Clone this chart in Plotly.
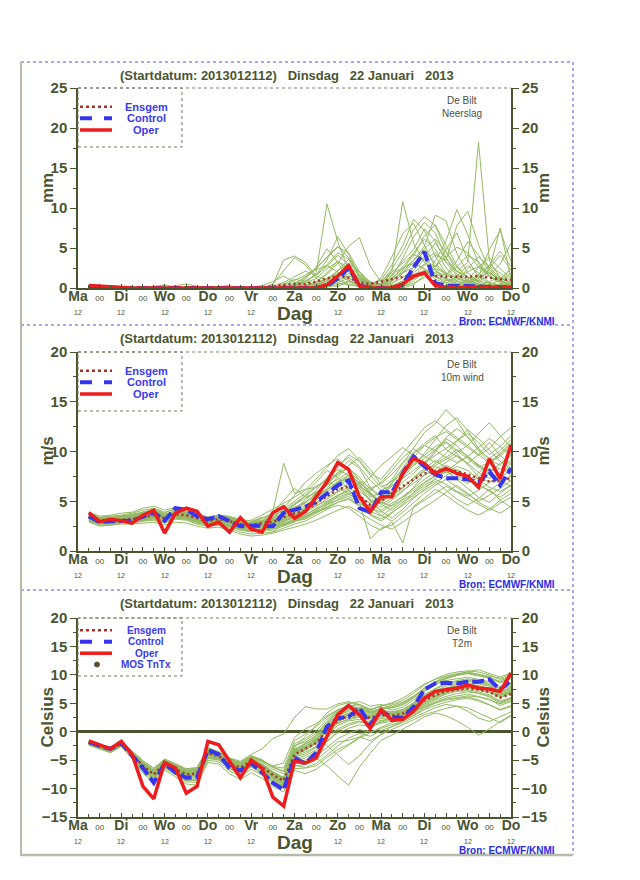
import plotly.graph_objects as go

W, H = 640, 880
OFF = 8  # page body margin compensation
FONT = "Liberation Sans"
TXT = "#4a5530"
GREEN = "#94ba62"
BLUE = "#3535f0"
RED = "#ee1c1c"
ENSC = "#a8302a"
LEGTXT = "#3a3af0"
FRAME_BLUE = "#4a5ae0"
FRAME_GREY = "#b4bcaa"

# ---------------- data ----------------
hours = [6, 12, 18, 24, 30, 36, 42, 48, 54, 60, 66, 72, 78, 84, 90, 96, 102, 108, 114, 120,
         126, 132, 138, 144, 150, 156, 162, 168, 174, 180, 186, 192, 198, 204, 210, 216, 222, 228, 234, 240]
day_hours = [0, 24, 48, 72, 96, 120, 144, 168, 192, 216, 240]
day_names = ["Ma", "Di", "Wo", "Do", "Vr", "Za", "Zo", "Ma", "Di", "Wo", "Do"]
mid_hours = [12, 36, 60, 84, 108, 132, 156, 180, 204, 228]
noon_label_hours = [0, 24, 48, 72, 96, 144, 168, 192, 216, 240]

# Precipitation (mm)
precip_oper = [0.3, 0.2, 0.1, 0, 0, 0, 0, 0, 0, 0, 0, 0, 0, 0, 0, 0, 0, 0, 0, 0,
               0, 0, 0.4, 1.5, 2.8, 0.3, 0, 0, 0, 0.5, 1.5, 1.9, 0.3, 0.1, 0.1, 0.1, 0.1, 0.1, 0.1, 0.1]
precip_ctl = [0.2, 0.1, 0, 0, 0, 0, 0, 0, 0, 0, 0, 0, 0, 0, 0, 0, 0, 0, 0, 0,
              0, 0, 0.3, 1.2, 2.5, 0.3, 0, 0, 0, 0.4, 2.6, 4.5, 0.6, 0.3, 0.3, 0.3, 0.2, 0.1, 0.1, 0.1]
precip_ens = [0.2, 0.1, 0, 0, 0, 0, 0, 0, 0, 0, 0, 0, 0, 0, 0, 0, 0.1, 0.2, 0.4, 0.5,
              0.5, 0.8, 1.2, 1.5, 1.3, 0.7, 0.5, 0.8, 1.1, 1.4, 1.6, 1.7, 1.5, 1.4, 1.4, 1.4, 1.5, 1.3, 1.1, 1.0]
precip_p01 = [0.3, 0.2, 0, 0, 0, 0, 0, 0, 0, 0, 0, 0, 0, 0, 0, 0, 0, 0.5, 2.1, 3.8,
              2.9, 1.2, 0.4, 0.2, 0.8, 0.3, 0, 0, 0.5, 1.8, 3.2, 2.4, 1.1, 0.6, 1.5, 2.8, 1.9, 0.7, 0.3, 0.5]
precip_p02 = [0.2, 0.1, 0, 0, 0, 0, 0.2, 0.4, 0.1, 0, 0, 0, 0, 0, 0, 0, 0, 0, 0, 0.3,
              1.1, 2.6, 4.9, 3.2, 1.0, 0.2, 0, 0.4, 2.1, 10.8, 5.6, 3.2, 2.4, 1.1, 0.6, 0.4, 1.2, 2.0, 0.8, 0.4]
precip_p03 = [0.3, 0.1, 0, 0, 0, 0, 0, 0, 0, 0, 0, 0, 0, 0, 0, 0.1, 0.3, 0.8, 1.5, 0.7,
              0.5, 1.9, 10.5, 5.8, 2.2, 0.6, 0.1, 0, 0.3, 0.9, 2.6, 4.8, 3.1, 1.7, 2.6, 4.1, 3.3, 1.5, 0.8, 0.4]
precip_p04 = [0.2, 0.2, 0, 0, 0, 0, 0, 0, 0, 0, 0, 0, 0.2, 0.3, 0, 0, 0, 0, 0.1, 0.4,
              0.9, 1.6, 2.9, 4.4, 3.6, 1.3, 0.4, 0.2, 1.1, 2.7, 4.0, 6.5, 7.9, 5.4, 2.8, 1.2, 0.9, 2.5, 4.1, 2.2]
precip_p05 = [0.3, 0.2, 0.1, 0, 0, 0, 0, 0, 0, 0, 0, 0, 0, 0, 0, 0, 0, 0, 0, 0,
              0.2, 0.8, 1.7, 3.1, 5.2, 6.3, 2.7, 0.8, 0.2, 0, 0.4, 1.6, 3.4, 5.9, 9.8, 6.7, 3.0, 1.4, 0.6, 0.3]
precip_p06 = [0.2, 0.1, 0, 0, 0, 0, 0, 0, 0, 0, 0, 0, 0, 0, 0, 0, 0, 0, 0, 0,
              0, 0, 0.5, 1.4, 2.3, 1.1, 0.3, 0.6, 2.4, 4.5, 7.3, 8.9, 7.8, 4.6, 2.0, 3.2, 18.2, 3.4, 1.3, 0.6]
precip_p07 = [0.3, 0.2, 0, 0, 0, 0, 0, 0, 0.3, 0.5, 0.2, 0, 0, 0, 0, 0, 0, 0.4, 3.5, 4.0,
              3.2, 1.5, 1.0, 2.1, 3.6, 1.9, 0.5, 0.1, 0, 0.2, 0.9, 2.1, 1.4, 0.7, 0.4, 1.0, 2.6, 3.8, 2.4, 1.2]
precip_p08 = [0.2, 0.2, 0, 0, 0, 0, 0, 0, 0, 0, 0, 0, 0, 0, 0, 0, 0, 0, 0, 0.1,
              0.3, 0.6, 1.2, 1.8, 0.9, 0.4, 0.2, 1.3, 3.9, 6.8, 8.1, 5.3, 2.6, 4.8, 6.9, 3.5, 1.4, 0.6, 0.3, 0.2]
precip_p09 = [0.3, 0.1, 0, 0, 0, 0, 0, 0, 0, 0, 0, 0, 0, 0, 0, 0, 0, 0, 0, 0,
              0, 0.4, 1.1, 2.2, 3.0, 2.1, 0.6, 0.2, 0.9, 2.0, 3.5, 5.2, 9.1, 8.4, 4.3, 1.9, 0.8, 1.6, 3.0, 5.6]
precip_p10 = [0.2, 0.2, 0, 0, 0, 0, 0, 0, 0, 0, 0, 0, 0, 0, 0, 0, 0, 0, 0.2, 0.6,
              1.3, 2.5, 3.8, 5.1, 4.4, 2.0, 0.7, 0.3, 0.1, 0.5, 1.9, 3.0, 2.2, 1.0, 0.5, 0.3, 0.9, 2.3, 7.5, 1.1]
precip_p11 = [0.3, 0.2, 0, 0, 0, 0, 0, 0, 0, 0, 0, 0, 0, 0, 0, 0, 0, 0, 0, 0,
              0.2, 0.5, 0.8, 1.4, 2.6, 1.7, 0.8, 0.4, 1.6, 3.4, 4.8, 7.4, 5.9, 3.2, 1.5, 0.7, 0.4, 0.2, 0.5, 0.3]
precip_p12 = [0.2, 0.1, 0, 0, 0, 0, 0, 0, 0, 0, 0, 0, 0, 0, 0, 0, 0, 0, 0, 0.2,
              0.4, 0.7, 1.9, 3.4, 2.0, 0.6, 0.1, 0, 0, 0.3, 1.4, 2.9, 4.1, 3.5, 7.8, 9.6, 5.4, 2.3, 1.0, 0.4]
precip_p13 = [0.3, 0.2, 0, 0, 0, 0, 0, 0, 0, 0, 0, 0, 0, 0, 0, 0, 0, 0.1, 0.5, 1.1,
              0.8, 0.4, 0.6, 1.0, 0.5, 0.2, 0.1, 0.6, 1.8, 2.5, 3.1, 2.4, 1.5, 0.9, 1.3, 2.0, 2.7, 1.8, 1.1, 2.4]
precip_p14 = [0.2, 0.2, 0, 0, 0, 0, 0, 0, 0, 0, 0, 0, 0, 0, 0, 0, 0, 0, 0, 0,
              0, 0, 0.2, 0.7, 1.2, 0.8, 0.3, 0.1, 0.8, 2.2, 4.4, 6.1, 4.9, 2.5, 1.2, 0.6, 1.5, 4.8, 7.2, 3.3]
precip_p15 = [0.3, 0.1, 0, 0, 0, 0, 0, 0, 0, 0, 0, 0, 0, 0, 0, 0, 0, 0, 0, 0.3,
              0.8, 1.6, 3.5, 6.4, 4.2, 1.5, 0.4, 0, 0.2, 0.6, 1.2, 2.0, 2.8, 1.6, 0.9, 0.5, 0.3, 0.8, 1.4, 0.7]
precip_p16 = [0.2, 0.2, 0, 0, 0, 0, 0, 0, 0, 0, 0, 0, 0, 0, 0, 0, 0, 0, 0, 0,
              0, 0.1, 0.4, 0.9, 1.5, 1.1, 0.5, 1.0, 2.9, 5.3, 8.6, 7.2, 4.0, 1.8, 0.9, 2.4, 3.9, 2.6, 1.2, 0.6]
precip_p17 = [0.3, 0.2, 0, 0, 0, 0, 0.1, 0.3, 0, 0, 0, 0, 0, 0, 0, 0, 0, 0, 0, 0.5,
              1.4, 2.3, 2.8, 2.0, 1.2, 0.6, 0.2, 0.4, 1.1, 1.9, 2.6, 3.9, 5.6, 3.7, 2.1, 1.0, 0.5, 0.3, 0.2, 0.1]
precip_p18 = [0.2, 0.1, 0, 0, 0, 0, 0, 0, 0, 0, 0, 0, 0, 0, 0, 0, 0, 0, 0, 0,
              0, 0, 0.3, 0.6, 0.4, 0.2, 0, 0, 0.1, 0.5, 1.1, 1.8, 2.4, 1.9, 1.2, 0.8, 1.7, 2.9, 4.6, 2.7]
precip_p19 = [0.3, 0.2, 0, 0, 0, 0, 0, 0, 0, 0, 0, 0, 0, 0, 0, 0, 0, 0, 0.3, 0.9,
              1.6, 2.4, 3.9, 5.2, 3.8, 1.6, 0.5, 0.2, 0.6, 1.3, 2.2, 3.6, 4.4, 3.3, 2.1, 1.4, 0.9, 0.6, 0.4, 0.3]
precip_p20 = [0.2, 0.1, 0, 0, 0, 0, 0, 0, 0, 0, 0, 0, 0, 0, 0, 0, 0, 0, 0, 0,
              0, 0.2, 0.6, 1.1, 1.8, 1.2, 0.4, 0.2, 1.4, 3.7, 6.4, 8.2, 6.9, 3.8, 1.7, 0.9, 0.5, 0.3, 1.1, 2.4]
precip_p21 = [0.3, 0.2, 0, 0, 0, 0, 0, 0, 0, 0, 0, 0, 0, 0, 0, 0, 0, 0.2, 0.7, 1.4,
              2.1, 1.6, 2.7, 4.1, 2.9, 1.0, 0.3, 0, 0, 0.2, 0.6, 1.3, 2.0, 1.6, 3.4, 5.8, 4.1, 2.0, 0.9, 0.4]
precip_p22 = [0.2, 0.2, 0, 0, 0, 0, 0, 0, 0, 0, 0, 0, 0, 0, 0, 0, 0, 0, 0, 0,
              0, 0, 0.1, 0.4, 0.9, 0.5, 0.2, 0.4, 1.2, 2.4, 3.4, 4.9, 6.1, 4.5, 2.6, 1.3, 0.7, 0.4, 0.2, 0.2]
precip_p23 = [0.3, 0.1, 0, 0, 0, 0, 0, 0, 0, 0, 0, 0, 0, 0, 0, 0, 0, 0, 0, 0.2,
              0.6, 1.2, 2.4, 3.3, 2.6, 0.9, 0.3, 0.1, 0.3, 0.8, 1.6, 2.2, 1.8, 1.2, 0.8, 0.5, 1.3, 2.8, 1.9, 0.9]
precip_p24 = [0.2, 0.2, 0, 0, 0, 0, 0, 0, 0, 0, 0, 0, 0, 0, 0, 0, 0, 0, 0, 0,
              0.1, 0.3, 0.9, 1.7, 2.1, 1.4, 0.6, 0.9, 2.0, 3.1, 4.2, 3.5, 2.7, 3.9, 5.1, 4.4, 2.6, 1.5, 0.8, 1.9]
precip_members = [precip_p01, precip_p02, precip_p03, precip_p04, precip_p05, precip_p06,
                  precip_p07, precip_p08, precip_p09, precip_p10, precip_p11, precip_p12,
                  precip_p13, precip_p14, precip_p15, precip_p16, precip_p17, precip_p18,
                  precip_p19, precip_p20, precip_p21, precip_p22, precip_p23, precip_p24]

# 10m wind (m/s)
wind_oper = [3.85, 2.95, 3.2, 3.05, 2.8, 3.6, 4.1, 1.8, 3.8, 4.3, 4.0, 2.5, 2.9, 1.9, 3.35, 2.2, 1.9, 3.85, 4.45, 3.3,
             3.95, 5.45, 6.95, 8.9, 8.2, 5.45, 3.95, 5.45, 5.45, 7.8, 9.3, 8.8, 7.8, 8.3, 7.8, 7.5, 6.4, 9.25, 7.25, 10.65]
wind_ctl = [3.5, 2.9, 3.0, 3.0, 3.05, 3.45, 3.9, 3.05, 4.3, 4.15, 3.5, 3.2, 3.5, 3.0, 2.5, 2.55, 2.55, 2.5, 3.85, 4.2,
            4.45, 4.95, 5.8, 6.6, 7.1, 4.3, 3.9, 5.9, 5.9, 7.8, 9.5, 8.5, 7.7, 7.3, 7.3, 7.2, 6.9, 8.0, 6.6, 8.3]
wind_ens = [3.4, 3.0, 3.0, 3.1, 3.2, 3.4, 3.6, 3.3, 3.7, 3.6, 3.3, 3.0, 3.2, 3.0, 2.7, 2.6, 2.8, 2.9, 3.4, 3.8,
            4.0, 4.8, 5.5, 6.2, 6.5, 5.5, 4.6, 5.0, 5.8, 6.5, 7.2, 7.8, 8.0, 8.2, 8.0, 7.7, 7.3, 7.0, 7.0, 7.3]
wind_m01 = [3.6, 3.1, 3.3, 3.4, 3.5, 3.9, 4.0, 3.6, 4.1, 3.8, 3.4, 3.1, 3.5, 3.3, 2.9, 2.5, 2.9, 3.4, 4.2, 5.0,
            5.8, 6.9, 8.1, 7.4, 6.2, 4.9, 4.1, 5.3, 6.8, 8.4, 9.9, 10.8, 11.6, 10.2, 9.5, 8.8, 9.7, 10.9, 9.6, 8.7]
wind_m02 = [3.2, 2.8, 2.7, 2.9, 3.0, 3.1, 3.3, 3.0, 3.4, 3.2, 2.9, 2.6, 2.8, 2.4, 2.1, 1.9, 2.2, 2.0, 2.6, 3.1,
            3.5, 3.9, 4.6, 5.5, 6.3, 6.9, 5.8, 4.7, 4.1, 4.9, 5.6, 6.4, 7.0, 6.1, 5.2, 4.6, 5.3, 6.2, 5.1, 4.4]
wind_m03 = [3.5, 3.3, 3.2, 3.0, 3.4, 3.7, 3.9, 3.5, 3.6, 3.9, 3.7, 3.4, 3.6, 3.5, 3.1, 2.8, 3.3, 3.8, 5.1, 6.3,
            5.4, 5.9, 6.8, 7.7, 8.4, 7.1, 5.6, 4.8, 6.1, 7.4, 8.6, 9.8, 11.2, 12.6, 13.4, 12.1, 10.3, 9.2, 8.6, 9.9]
wind_m04 = [3.3, 2.9, 3.0, 3.2, 2.9, 3.0, 3.3, 3.1, 3.5, 3.3, 3.0, 2.7, 2.9, 2.6, 2.3, 2.2, 2.5, 2.4, 2.8, 3.2,
            3.6, 4.3, 4.9, 5.6, 6.0, 5.2, 4.3, 3.9, 4.6, 5.5, 6.3, 7.2, 7.9, 8.6, 8.1, 7.4, 6.6, 6.1, 6.8, 7.5]
wind_m05 = [3.8, 3.4, 3.5, 3.6, 3.8, 4.1, 4.3, 3.9, 4.2, 4.0, 3.6, 3.3, 3.4, 3.2, 2.8, 2.9, 3.4, 3.1, 3.6, 4.4,
            4.9, 5.7, 6.6, 7.8, 9.1, 8.3, 6.4, 5.2, 5.9, 6.9, 7.8, 8.9, 10.1, 11.3, 10.6, 9.4, 8.7, 7.9, 8.8, 9.6]
wind_m06 = [3.1, 2.7, 2.9, 3.0, 3.1, 3.2, 3.5, 3.2, 3.8, 3.5, 3.1, 2.9, 3.1, 2.9, 2.6, 2.4, 2.6, 2.7, 3.0, 3.3,
            3.3, 4.0, 4.4, 4.9, 5.3, 4.6, 3.6, 3.0, 3.8, 4.7, 5.9, 6.8, 7.5, 8.1, 7.2, 6.3, 5.4, 4.9, 5.8, 6.6]
wind_m07 = [3.4, 3.0, 3.1, 3.3, 3.3, 3.6, 3.8, 3.4, 3.9, 3.7, 3.3, 3.0, 3.3, 3.1, 2.7, 2.7, 3.0, 3.2, 4.3, 5.6,
            6.9, 7.8, 8.6, 9.3, 8.1, 6.7, 5.4, 5.9, 7.2, 8.8, 10.4, 11.9, 12.8, 14.2, 13.1, 11.4, 10.2, 9.3, 10.1, 11.2]
wind_m08 = [3.0, 2.6, 2.6, 2.8, 2.8, 3.0, 3.1, 2.8, 3.2, 3.1, 2.7, 2.5, 2.6, 2.3, 1.9, 1.7, 1.8, 1.9, 2.3, 2.7,
            3.0, 3.6, 4.2, 4.6, 4.3, 3.5, 2.6, 2.1, 2.9, 0.8, 4.5, 5.3, 6.2, 5.6, 4.8, 4.1, 3.6, 4.2, 5.1, 5.8]
wind_m09 = [3.6, 3.2, 3.4, 3.5, 3.6, 3.8, 4.1, 3.7, 4.0, 3.8, 3.5, 3.2, 3.4, 3.3, 3.0, 2.6, 2.8, 4.0, 8.8, 5.8,
            6.2, 6.4, 7.3, 8.2, 7.6, 6.8, 6.1, 6.9, 8.1, 9.4, 10.3, 9.5, 8.9, 9.8, 11.0, 12.2, 11.3, 10.1, 9.0, 8.3]
wind_m10 = [3.3, 3.0, 3.0, 3.1, 3.2, 3.5, 3.6, 3.3, 3.7, 3.6, 3.2, 3.0, 3.1, 3.0, 2.7, 2.5, 2.7, 2.6, 2.9, 3.6,
            4.2, 5.1, 5.9, 6.8, 7.5, 6.3, 5.0, 4.4, 5.1, 6.0, 7.1, 8.0, 8.8, 9.4, 10.2, 9.6, 8.5, 7.6, 7.1, 6.5]
wind_m11 = [3.5, 3.1, 3.2, 3.3, 3.4, 3.6, 3.8, 3.4, 3.7, 3.7, 3.4, 3.1, 3.3, 3.0, 2.6, 2.8, 3.1, 3.0, 3.3, 3.9,
            4.6, 5.3, 6.1, 7.0, 7.6, 6.9, 5.9, 4.9, 4.5, 5.2, 6.4, 7.7, 8.5, 8.0, 7.3, 6.8, 7.4, 8.3, 7.7, 7.0]
wind_m12 = [3.2, 2.8, 2.8, 3.0, 3.0, 3.2, 3.4, 3.1, 3.5, 3.4, 3.1, 2.8, 3.0, 2.7, 2.4, 2.3, 2.4, 2.5, 2.7, 3.0,
            3.2, 3.8, 4.4, 5.2, 5.7, 5.1, 4.4, 3.6, 3.0, 3.9, 4.9, 5.8, 6.6, 7.2, 6.4, 5.7, 5.0, 5.6, 6.3, 7.1]
wind_m13 = [3.7, 3.3, 3.3, 3.5, 3.7, 3.9, 4.2, 3.8, 4.3, 4.1, 3.7, 3.3, 3.5, 3.4, 3.2, 3.0, 3.3, 3.6, 4.0, 4.8,
            5.5, 6.4, 7.2, 8.3, 9.7, 9.0, 7.6, 6.4, 7.0, 8.2, 9.3, 10.6, 11.4, 12.0, 11.2, 10.4, 9.6, 10.3, 11.5, 12.4]
wind_m14 = [3.4, 3.0, 3.0, 3.2, 3.3, 3.4, 3.7, 3.3, 3.6, 3.5, 3.2, 2.9, 3.2, 2.9, 2.6, 2.4, 2.6, 2.8, 3.1, 3.4,
            3.9, 4.5, 5.2, 5.9, 6.4, 5.6, 4.7, 4.1, 4.8, 5.4, 6.1, 6.9, 7.6, 7.9, 8.5, 8.1, 7.2, 6.4, 6.0, 6.6]
wind_m15 = [3.1, 2.8, 2.9, 2.9, 3.1, 3.3, 3.5, 3.2, 3.4, 3.3, 3.0, 2.7, 2.8, 2.5, 2.2, 2.0, 2.1, 2.2, 2.5, 2.9,
            3.4, 4.1, 4.8, 5.4, 5.8, 4.9, 1.2, 2.3, 2.6, 3.5, 4.4, 5.1, 5.8, 6.5, 5.9, 5.3, 4.7, 4.1, 4.8, 5.4]
wind_m16 = [3.6, 3.2, 3.3, 3.4, 3.5, 3.7, 4.0, 3.6, 3.9, 3.8, 3.5, 3.2, 3.3, 3.2, 2.9, 2.7, 2.9, 3.1, 3.5, 4.1,
            4.8, 5.8, 6.9, 7.9, 8.3, 7.4, 6.2, 5.6, 6.5, 7.6, 8.8, 9.6, 10.5, 11.0, 10.1, 9.3, 8.4, 8.9, 9.5, 10.6]
wind_m17 = [3.3, 2.9, 3.1, 3.2, 3.2, 3.4, 3.6, 3.3, 3.8, 3.6, 3.2, 3.0, 3.2, 3.0, 2.8, 2.6, 2.8, 3.0, 3.4, 3.8,
            4.4, 4.9, 5.4, 6.0, 6.8, 6.0, 5.2, 4.7, 5.3, 6.1, 6.8, 7.6, 8.2, 8.9, 9.6, 8.8, 7.9, 7.3, 7.8, 8.4]
wind_m18 = [3.2, 2.9, 2.9, 3.0, 3.1, 3.3, 3.5, 3.2, 3.6, 3.4, 3.1, 2.8, 3.0, 2.8, 2.5, 2.3, 2.5, 2.6, 3.0, 3.5,
            4.0, 4.7, 5.6, 6.6, 7.2, 6.5, 5.1, 4.0, 3.3, 4.2, 5.3, 6.2, 7.3, 8.0, 8.8, 9.5, 8.6, 7.7, 6.9, 7.6]
wind_m19 = [3.9, 3.5, 3.6, 3.8, 3.9, 4.3, 4.5, 4.1, 4.4, 4.2, 3.8, 3.4, 3.6, 3.4, 3.0, 3.1, 3.6, 4.2, 4.8, 5.4,
            6.1, 7.2, 8.4, 9.6, 10.3, 9.1, 7.8, 7.2, 8.5, 9.8, 11.2, 12.4, 13.1, 12.2, 11.4, 10.6, 11.8, 12.9, 11.6, 10.4]
wind_m20 = [2.9, 2.5, 2.6, 2.7, 2.7, 2.8, 2.9, 2.6, 2.9, 2.8, 2.5, 2.3, 2.4, 2.1, 1.7, 1.5, 1.6, 1.8, 2.1, 2.4,
            2.7, 3.1, 3.6, 4.1, 4.5, 3.9, 3.2, 2.6, 2.2, 2.9, 3.7, 4.4, 5.1, 5.9, 6.6, 5.8, 4.9, 4.3, 3.8, 4.5]
wind_m21 = [3.5, 3.2, 3.2, 3.3, 3.6, 3.8, 3.9, 3.5, 3.8, 3.7, 3.6, 3.3, 3.5, 3.3, 2.9, 2.7, 3.0, 3.3, 3.7, 4.6,
            5.6, 6.5, 7.1, 6.4, 5.7, 6.3, 7.4, 8.6, 9.5, 10.4, 9.6, 8.7, 9.9, 11.4, 12.3, 11.5, 10.1, 8.9, 9.8, 10.9]
wind_m22 = [3.3, 2.9, 2.9, 3.1, 3.1, 3.3, 3.5, 3.2, 3.5, 3.4, 3.1, 2.8, 3.0, 2.8, 2.5, 2.3, 2.6, 2.8, 3.2, 3.7,
            4.3, 5.2, 6.3, 7.5, 8.6, 9.4, 8.2, 6.7, 5.6, 6.3, 7.4, 8.3, 9.1, 8.4, 7.6, 7.0, 7.8, 8.9, 9.7, 10.8]
wind_m23 = [3.4, 3.1, 3.1, 3.2, 3.4, 3.5, 3.8, 3.4, 3.7, 3.6, 3.2, 2.9, 3.1, 2.9, 2.6, 2.5, 2.7, 2.9, 3.2, 3.6,
            4.1, 4.6, 5.0, 5.6, 6.1, 5.4, 4.8, 5.6, 6.9, 7.8, 8.6, 9.3, 10.2, 10.9, 9.8, 8.6, 7.5, 6.9, 7.6, 8.8]
wind_m24 = [3.7, 3.3, 3.4, 3.5, 3.6, 3.9, 4.1, 3.7, 4.0, 3.9, 3.6, 3.2, 3.4, 3.3, 3.0, 2.8, 3.1, 3.3, 3.8, 4.3,
            4.9, 5.5, 6.2, 6.9, 7.3, 6.6, 5.7, 5.0, 5.6, 6.4, 7.3, 8.1, 8.6, 9.2, 9.9, 10.6, 9.7, 8.8, 8.2, 9.1]
wind_m25 = [3.2, 2.8, 2.9, 3.0, 3.0, 3.1, 3.4, 3.1, 3.4, 3.3, 3.0, 2.8, 2.9, 2.6, 2.3, 2.1, 2.3, 2.4, 2.7, 3.1,
            3.6, 4.2, 4.7, 5.1, 5.5, 4.8, 4.0, 3.5, 4.3, 5.1, 5.8, 6.6, 7.2, 6.7, 6.0, 5.5, 6.1, 6.9, 7.4, 8.1]
wind_m26 = [3.5, 3.1, 3.3, 3.4, 3.4, 3.7, 3.9, 3.5, 3.9, 3.8, 3.4, 3.1, 3.3, 3.1, 2.8, 2.6, 2.9, 3.1, 3.5, 4.2,
            5.1, 6.1, 7.4, 8.6, 9.4, 8.5, 7.1, 6.1, 6.6, 7.3, 8.1, 8.9, 9.6, 10.3, 11.1, 11.8, 10.9, 9.7, 10.5, 11.6]
wind_m27 = [3.0, 2.7, 2.7, 2.9, 2.9, 3.1, 3.2, 2.9, 3.3, 3.2, 2.8, 2.6, 2.7, 2.5, 2.2, 2.0, 2.2, 2.3, 2.6, 3.0,
            3.4, 3.9, 4.3, 4.9, 5.2, 4.5, 3.7, 3.2, 3.9, 4.6, 5.4, 6.1, 6.8, 7.6, 8.2, 7.5, 6.7, 6.0, 5.4, 6.2]
wind_m28 = [3.6, 3.3, 3.3, 3.5, 3.5, 3.8, 4.0, 3.6, 4.0, 3.8, 3.5, 3.1, 3.4, 3.2, 2.9, 2.8, 3.0, 3.2, 3.9, 4.7,
            5.3, 5.9, 6.6, 7.2, 7.9, 7.1, 6.3, 6.8, 7.7, 8.9, 9.8, 10.6, 10.1, 9.4, 8.9, 9.5, 10.4, 11.3, 10.5, 9.6]
wind_members = [wind_m01, wind_m02, wind_m03, wind_m04, wind_m05, wind_m06, wind_m07, wind_m08, wind_m09,
                wind_m10, wind_m11, wind_m12, wind_m13, wind_m14, wind_m15, wind_m16, wind_m17, wind_m18,
                wind_m19, wind_m20, wind_m21, wind_m22, wind_m23, wind_m24, wind_m25, wind_m26, wind_m27, wind_m28]

# 2m temperature (Celsius)
t2m_oper = [-1.6, -2.3, -3.0, -1.7, -4.0, -9.6, -11.8, -5.4, -6.4, -10.8, -9.6, -1.7, -2.3, -5.2, -8.1, -5.0, -6.4, -11.5, -13.1, -5.2,
            -5.5, -4.6, -0.8, 3.0, 4.6, 3.0, 0.6, 3.9, 2.0, 2.2, 3.6, 5.9, 7.1, 7.4, 7.7, 8.2, 7.7, 7.5, 7.1, 10.3]
t2m_ctl = [-1.8, -2.5, -3.0, -2.0, -4.2, -6.4, -9.0, -5.6, -7.2, -8.1, -8.0, -3.2, -4.0, -6.4, -6.8, -5.5, -7.2, -9.0, -10.2, -4.6,
           -5.6, -3.7, 0.9, 2.4, 2.6, 4.2, 1.3, 3.6, 2.6, 2.4, 4.4, 7.4, 8.5, 8.6, 8.5, 8.8, 8.8, 9.2, 7.4, 9.0]
t2m_ens = [-2.0, -2.6, -3.1, -2.1, -4.0, -6.0, -7.5, -5.6, -6.6, -7.5, -7.4, -3.8, -4.3, -5.6, -6.3, -5.2, -6.2, -7.6, -8.6, -4.0,
           -3.0, -2.0, 0.2, 2.0, 2.8, 3.0, 2.4, 2.9, 2.8, 3.2, 4.2, 5.5, 6.4, 7.1, 7.4, 7.6, 7.4, 7.0, 6.0, 6.6]
t2m_m01 = [-1.8, -2.4, -2.8, -1.9, -3.6, -5.4, -6.9, -5.1, -6.0, -7.0, -6.8, -3.2, -3.9, -5.0, -5.8, -4.6, -5.6, -7.0, -8.1, -3.0,
           -2.2, -1.0, 1.2, 2.8, 3.6, 3.9, 3.1, 3.7, 3.4, 3.9, 5.0, 6.4, 7.5, 8.3, 8.8, 9.1, 8.6, 8.2, 7.1, 7.8]
t2m_m02 = [-2.2, -2.8, -3.4, -2.3, -4.4, -6.6, -8.2, -6.1, -7.2, -8.4, -8.3, -4.5, -4.8, -6.2, -7.1, -6.0, -7.0, -8.5, -9.6, -5.2,
           -4.6, -3.5, -1.8, 0.2, 1.1, 1.7, 1.4, 2.0, 2.2, 2.6, 3.4, 4.6, 5.5, 6.2, 6.7, 7.0, 6.8, 6.1, 5.0, 5.8]
t2m_m03 = [-2.0, -2.5, -3.0, -2.0, -3.8, -5.7, -7.0, -5.4, -6.3, -7.2, -7.1, -3.5, -4.1, -5.3, -6.0, -4.8, -5.7, -7.1, -8.0, -2.6,
           -1.5, -0.3, 1.6, 3.4, 4.5, 4.8, 4.0, 4.4, 3.8, 4.3, 5.6, 7.1, 8.2, 9.3, 9.9, 10.4, 10.1, 9.6, 8.7, 9.5]
t2m_m04 = [-2.1, -2.7, -3.3, -2.2, -4.1, -6.3, -7.8, -5.8, -6.9, -7.9, -7.7, -4.1, -4.5, -5.9, -6.7, -5.5, -6.6, -8.1, -9.2, -4.3,
           -3.6, -2.6, -0.6, 1.1, 1.9, 2.2, 1.7, 2.3, 2.5, 3.0, 4.0, 5.2, 6.1, 6.9, 7.3, 7.4, 7.0, 6.5, 5.4, 6.0]
t2m_m05 = [-1.9, -2.5, -2.9, -2.0, -3.9, -5.8, -7.3, -5.5, -6.5, -7.3, -7.2, -3.6, -4.2, -5.4, -6.1, -5.0, -6.0, -7.4, -8.4, -3.4,
           -2.6, -1.4, 0.8, 2.4, 3.2, 3.4, 2.8, 3.3, 3.2, 3.6, 4.7, 6.0, 7.0, 7.7, 8.0, 8.4, 8.1, 7.6, 6.6, 7.2]
t2m_m06 = [-2.3, -3.0, -3.6, -2.5, -4.6, -7.0, -8.6, -6.4, -7.6, -8.8, -8.9, -5.0, -5.3, -6.9, -7.8, -6.6, -7.6, -9.0, -10.0, -6.0,
           -5.8, -5.0, -3.4, -1.8, -1.5, -0.9, -1.6, -0.5, 0.4, 1.2, 2.1, 3.0, 3.6, 4.1, 4.5, 4.2, 3.3, 2.4, 1.6, 2.8]
t2m_m07 = [-1.7, -2.3, -2.7, -1.8, -3.4, -5.1, -6.4, -4.8, -5.6, -6.5, -6.3, -2.8, -3.5, -4.6, -5.2, -4.0, -3.0, -1.2, -0.4, 2.5,
           4.4, 4.0, 4.0, 4.9, 5.3, 4.8, 3.6, 4.1, 4.6, 5.2, 6.3, 7.6, 8.6, 9.4, 10.0, 10.6, 10.9, 10.3, 9.6, 10.4]
t2m_m08 = [-2.0, -2.6, -3.1, -2.1, -4.0, -6.1, -7.6, -5.6, -6.7, -7.6, -7.5, -3.9, -4.3, -5.7, -6.4, -5.3, -6.3, -7.8, -8.8, -3.8,
           -3.1, -2.0, 0.2, 1.8, 2.6, 2.9, 2.3, 2.8, 2.7, 3.1, 4.2, 5.5, 6.4, 7.2, 7.6, 7.8, 7.5, 7.1, 6.1, 6.7]
t2m_m09 = [-2.2, -2.9, -3.5, -2.4, -4.5, -6.8, -8.4, -6.2, -7.4, -8.6, -8.6, -4.7, -5.0, -6.5, -7.4, -6.2, -7.3, -8.8, -9.8, -5.6,
           -5.3, -4.6, -6.0, -7.8, -9.4, -6.2, -3.8, -1.5, -0.6, 0.4, 1.5, 2.6, 3.3, 2.8, 1.9, 0.8, -0.6, 0.5, 1.8, 2.9]
t2m_m10 = [-1.9, -2.4, -2.9, -1.9, -3.7, -5.6, -7.1, -5.2, -6.1, -7.1, -6.9, -3.3, -4.0, -5.2, -5.9, -4.7, -5.8, -7.2, -8.2, -3.2,
           -2.0, -0.6, 1.8, 3.7, 4.9, 5.3, 4.5, 4.8, 4.2, 4.7, 5.9, 7.3, 8.4, 9.0, 9.3, 9.6, 9.2, 8.8, 7.9, 8.6]
t2m_m11 = [-2.1, -2.6, -3.2, -2.1, -4.2, -6.2, -7.7, -5.7, -6.8, -7.7, -7.6, -4.0, -4.4, -5.8, -6.5, -5.4, -6.4, -7.9, -9.0, -4.1,
           -3.3, -1.8, 0.4, 1.6, 2.1, 2.6, 2.0, 2.5, 2.9, 3.5, 4.5, 5.8, 6.6, 7.4, 7.9, 8.1, 7.9, 7.4, 6.4, 7.0]
t2m_m12 = [-1.8, -2.5, -3.0, -2.0, -3.8, -5.7, -7.2, -5.3, -6.2, -7.1, -7.0, -3.4, -4.0, -5.1, -5.7, -4.5, -5.2, -6.0, -5.5, -1.0,
           0.5, 1.4, 2.8, 3.9, 4.6, 4.2, 3.5, 3.0, 2.6, 2.9, 3.8, 4.9, 5.8, 6.6, 7.1, 7.2, 6.7, 6.3, 5.2, 5.9]
t2m_m13 = [-2.4, -3.1, -3.7, -2.6, -4.8, -7.3, -9.0, -6.7, -8.0, -9.2, -9.4, -5.4, -5.7, -7.4, -8.4, -7.2, -8.2, -9.6, -10.6, -6.5,
           -6.4, -6.0, -4.5, -3.1, -2.2, -1.0, 0.6, 1.9, 2.4, 2.9, 3.6, 4.3, 5.1, 5.6, 5.9, 6.1, 5.6, 4.8, 3.9, 4.6]
t2m_m14 = [-2.0, -2.6, -3.0, -2.1, -3.9, -6.0, -7.4, -5.6, -6.6, -7.5, -7.3, -3.7, -4.2, -5.5, -6.2, -5.1, -6.1, -7.5, -8.5, -3.6,
           -2.9, -1.8, 0.0, 1.4, 2.3, 2.7, 2.4, 2.9, 3.0, 3.5, 4.6, 5.9, 6.9, 7.6, 8.3, 8.6, 8.4, 8.0, 7.0, 7.6]
t2m_m15 = [-1.7, -2.3, -2.7, -1.8, -3.5, -5.2, -6.5, -4.9, -5.8, -6.6, -6.4, -2.9, -3.6, -4.7, -5.4, -4.2, -4.9, -6.3, -7.0, -2.1,
           -1.2, 0.1, 2.2, 3.6, 4.2, 4.0, 3.3, 3.9, 4.2, 4.8, 6.1, 7.5, 8.7, 9.5, 9.9, 10.2, 9.8, 9.5, 8.9, 9.8]
t2m_m16 = [-2.2, -2.8, -3.4, -2.3, -4.3, -6.5, -8.0, -6.0, -7.0, -8.2, -8.1, -4.4, -4.7, -6.1, -6.9, -5.8, -6.8, -8.3, -9.4, -4.8,
           -4.2, -3.2, -1.6, -0.2, 0.6, 1.2, 0.9, 1.5, 1.8, 2.2, 3.2, 4.4, 5.2, 5.9, 6.3, 6.6, 6.2, 5.7, 4.6, 5.3]
t2m_m17 = [-2.0, -2.5, -3.1, -2.0, -4.0, -5.9, -7.4, -5.5, -6.5, -7.4, -7.3, -3.7, -4.3, -5.6, -6.3, -5.2, -6.2, -7.6, -8.6, -3.7,
           -2.7, -1.3, 1.0, 2.5, 3.3, 3.6, 2.9, 3.4, 3.1, 3.4, 4.4, 5.7, 6.7, 7.5, 7.9, 8.2, 8.0, 7.6, 6.8, 7.4]
t2m_m18 = [-1.9, -2.4, -2.9, -2.0, -3.7, -5.5, -6.8, -5.0, -5.9, -6.8, -6.6, -3.1, -3.8, -4.9, -5.5, -4.3, -5.1, -6.2, -6.9, -2.4,
           -1.8, -0.8, 1.4, 3.1, 4.0, 4.3, 3.8, 4.6, 4.9, 5.5, 6.8, 8.2, 9.3, 10.1, 10.5, 10.7, 10.5, 10.0, 9.2, 9.7]
t2m_m19 = [-2.1, -2.7, -3.2, -2.2, -4.1, -6.2, -7.7, -5.8, -6.8, -7.8, -7.6, -4.0, -4.5, -5.8, -6.5, -5.4, -6.5, -8.0, -9.1, -6.8,
           -7.4, -6.6, -5.2, -3.6, -2.4, -1.1, -0.2, 0.8, 1.6, 2.4, 3.5, 4.8, 5.9, 6.8, 7.4, 7.7, 7.3, 6.9, 6.0, 6.8]
t2m_m20 = [-1.8, -2.4, -2.8, -1.9, -3.6, -5.5, -6.8, -5.0, -5.9, -6.9, -6.7, -3.3, -3.8, -4.9, -5.6, -4.4, -5.3, -6.6, -7.4, -2.7,
           -0.8, 1.1, 3.3, 4.6, 5.1, 4.6, 3.9, 4.5, 5.1, 5.9, 7.2, 8.4, 9.2, 9.8, 10.2, 10.5, 10.1, 9.7, 9.4, 10.1]
t2m_m21 = [-2.2, -2.8, -3.3, -2.3, -4.3, -6.4, -8.0, -5.9, -7.1, -8.0, -7.9, -4.2, -4.6, -6.0, -6.8, -5.6, -6.7, -8.2, -9.2, -4.5,
           -3.9, -2.8, -1.0, 0.5, 1.4, 1.9, 1.1, 1.7, 2.2, 2.8, 3.9, 5.1, 6.2, 7.0, 7.6, 8.0, 7.8, 7.3, 6.5, 7.1]
t2m_m22 = [-2.0, -2.5, -3.0, -2.1, -3.9, -5.9, -7.3, -5.5, -6.4, -7.4, -7.2, -3.7, -4.1, -5.4, -6.1, -5.0, -6.0, -7.3, -8.1, -3.1,
           -2.3, -1.2, -2.4, -4.1, -5.8, -4.2, -2.1, -0.4, 0.9, 1.8, 2.9, 4.1, 5.0, 5.7, 6.0, 6.3, 6.1, 5.6, 4.9, 5.5]
t2m_m23 = [-1.9, -2.6, -3.1, -2.0, -4.0, -6.0, -7.5, -5.6, -6.6, -7.5, -7.4, -3.8, -4.3, -5.6, -6.3, -5.2, -6.2, -7.7, -8.7, -3.9,
           -3.2, -2.1, 0.1, 1.9, 2.9, 3.2, 2.6, 3.0, 2.9, 3.3, 4.4, 5.6, 6.5, 7.3, 7.7, 8.0, 7.7, 7.3, 6.3, 6.9]
t2m_m24 = [-2.3, -2.9, -3.5, -2.4, -4.5, -6.7, -8.3, -6.2, -7.3, -8.5, -8.5, -4.6, -4.9, -6.4, -7.3, -6.1, -7.2, -8.7, -9.7, -5.4,
           -5.0, -4.2, -2.8, -1.2, -0.3, 0.4, -0.1, 0.6, 1.2, 1.9, 2.8, 3.9, 4.6, 5.2, 5.6, 5.9, 5.4, 4.7, 3.8, 4.4]
t2m_m25 = [-1.8, -2.3, -2.8, -1.9, -3.6, -5.4, -6.7, -5.0, -5.8, -6.7, -6.5, -3.0, -3.7, -4.8, -5.5, -4.3, -5.0, -6.1, -6.4, -1.6,
           -0.4, 0.9, 2.6, 3.8, 4.4, 4.1, 3.4, 4.0, 4.4, 5.0, 6.2, 7.7, 8.8, 9.7, 10.1, 10.3, 9.9, 9.4, 8.6, 9.3]
t2m_m26 = [-2.1, -2.6, -3.1, -2.1, -4.1, -6.1, -7.6, -5.7, -6.7, -7.6, -7.5, -3.9, -4.4, -5.7, -6.4, -5.3, -6.3, -7.8, -8.7, -5.9,
           -6.3, -5.6, -4.1, -2.5, -1.1, -0.3, -0.8, 0.2, 0.9, 1.6, 2.5, 3.4, 4.2, 4.8, 4.5, 3.6, 2.4, 1.8, 2.6, 3.5]
t2m_m27 = [-2.0, -2.6, -3.0, -2.0, -3.9, -5.9, -7.3, -5.5, -6.5, -7.4, -7.2, -3.6, -4.2, -5.4, -6.1, -5.0, -5.9, -7.3, -8.2, -3.3,
           -2.5, -1.6, 0.6, 2.2, 3.0, 3.2, 2.7, 3.1, 3.3, 3.8, 4.9, 6.2, 7.2, 8.0, 8.5, 8.9, 8.7, 8.3, 7.5, 8.0]
t2m_m28 = [-1.9, -2.5, -3.0, -2.0, -3.8, -5.8, -7.2, -5.4, -6.3, -7.3, -7.1, -3.5, -4.1, -5.3, -6.0, -4.9, -5.9, -7.2, -8.2, -3.5,
           -2.8, -1.5, 0.9, 2.7, 3.8, 4.1, 3.4, 3.8, 3.5, 3.9, 5.1, 6.5, 7.6, 8.5, 9.0, 9.3, 9.0, 8.5, 7.6, 8.3]
t2m_members = [t2m_m01, t2m_m02, t2m_m03, t2m_m04, t2m_m05, t2m_m06, t2m_m07, t2m_m08, t2m_m09,
               t2m_m10, t2m_m11, t2m_m12, t2m_m13, t2m_m14, t2m_m15, t2m_m16, t2m_m17, t2m_m18,
               t2m_m19, t2m_m20, t2m_m21, t2m_m22, t2m_m23, t2m_m24, t2m_m25, t2m_m26, t2m_m27, t2m_m28]

title_text = "(Startdatum: 2013012112)\u00a0\u00a0\u00a0Dinsdag\u00a0\u00a0\u00a022 Januari\u00a0\u00a0\u00a02013"

panels = [
    dict(top=88, bot=288, rng=[0, 25], ytitle="mm", sub=["De Bilt", "Neerslag"],
         members=precip_members, ens=precip_ens, ctl=precip_ctl, oper=precip_oper,
         zero=False, legend=["Ensgem", "Control", "Oper"], frame_top=62),
    dict(top=352, bot=551, rng=[0, 20], ytitle="m/s", sub=["De Bilt", "10m wind"],
         members=wind_members, ens=wind_ens, ctl=wind_ctl, oper=wind_oper,
         zero=False, legend=["Ensgem", "Control", "Oper"], frame_top=325),
    dict(top=618, bot=817, rng=[-15, 20], ytitle="Celsius", sub=["De Bilt", "T2m"],
         members=t2m_members, ens=t2m_ens, ctl=t2m_ctl, oper=t2m_oper,
         zero=True, legend=["Ensgem", "Control", "Oper", "MOS TnTx"], frame_top=590),
]


def px(x):
    return (x - OFF) / W


def py(y):
    return 1 - (y - OFF) / H


def note(x, y, text, size, color=TXT, xref="paper", xanchor="center", angle=0):
    return dict(x=x, y=y, xref=xref, yref="paper", text=text, showarrow=False,
                xanchor=xanchor, yanchor="middle", textangle=angle,
                font=dict(family=FONT, size=size, color=color))


fig = go.Figure()
layout = {}
shapes = []
annotations = []

tickvals = sorted(day_hours + mid_hours)
day_lookup = dict(zip(day_hours, day_names))
ticktext = [("<b>%s</b>" % day_lookup[t]) if t in day_lookup
            else "<span style='font-size:8px;font-weight:normal'>00</span>" for t in tickvals]

for k, p in enumerate(panels):
    n = k + 1
    xa = "x" if n == 1 else "x%d" % n
    ya = "y" if n == 1 else "y%d" % n
    yr = "y%d" % (n + 3)
    xkey = "xaxis" if n == 1 else "xaxis%d" % n
    ykey = "yaxis" if n == 1 else "yaxis%d" % n
    yrkey = "yaxis%d" % (n + 3)

    for m in p["members"]:
        fig.add_trace(go.Scatter(x=hours, y=m, xaxis=xa, yaxis=ya, mode="lines",
                                 line=dict(color=GREEN, width=1), showlegend=False, hoverinfo="skip"))
    fig.add_trace(go.Scatter(x=hours, y=p["ens"], xaxis=xa, yaxis=ya, mode="lines",
                             line=dict(color=ENSC, width=2.5, dash="2px,3px"), showlegend=False))
    fig.add_trace(go.Scatter(x=hours, y=p["ctl"], xaxis=xa, yaxis=ya, mode="lines",
                             line=dict(color=BLUE, width=4, dash="12px,4px"), showlegend=False))
    fig.add_trace(go.Scatter(x=hours, y=p["oper"], xaxis=xa, yaxis=yr, mode="lines",
                             line=dict(color=RED, width=3.5), showlegend=False))

    dom_y = [py(p["bot"]), py(p["top"])]
    layout[xkey] = dict(domain=[px(78), px(511)], anchor=ya, range=[0, 240], automargin=False,
                        tickmode="array", tickvals=tickvals, ticktext=ticktext,
                        ticks="inside", ticklen=4, tickcolor=TXT, tickwidth=1,
                        ticklabelstandoff=-6,
                        showline=True, linecolor=TXT, linewidth=1.5,
                        showgrid=False, zeroline=False, fixedrange=True,
                        tickfont=dict(family=FONT, size=14, color=TXT),
                        minor=dict(dtick=6, tick0=0, ticks="inside", ticklen=3, tickcolor=TXT))
    yax = dict(domain=dom_y, anchor=xa, range=p["rng"], tickmode="linear", tick0=p["rng"][0], dtick=5,
               automargin=False,
               ticks="outside", ticklen=6, tickcolor=TXT, tickwidth=1,
               showline=True, linecolor=TXT, linewidth=1.5, showgrid=False, fixedrange=True,
               tickfont=dict(family=FONT, size=15, color=TXT, weight="bold"),
               minor=dict(dtick=2.5, ticks="outside", ticklen=3, tickcolor=TXT))
    left = dict(yax)
    left["zeroline"] = p["zero"]
    if p["zero"]:
        left["zerolinecolor"] = TXT
        left["zerolinewidth"] = 2.5
    layout[ykey] = left
    right = dict(yax)
    right.pop("domain")
    right.update(overlaying=ya, side="right", zeroline=False)
    layout[yrkey] = right

    # grey dotted top border of plot area
    shapes.append(dict(type="line", xref="%s domain" % xa, yref="%s domain" % ya,
                       x0=0, x1=1, y0=1, y1=1, line=dict(color="#a9b0a0", width=1.5, dash="dot")))

    annotations.append(note(px(287), py(p["frame_top"] + 13), "<b>%s</b>" % title_text, 13))
    for j, s in enumerate(p["sub"]):
        annotations.append(note(px(462), py(p["top"] + 12.5 + 12.5 * j), s, 10, color="#505040"))
    annotations.append(note(120, py(p["bot"] + 25), "<b>Dag</b>", 19, xref=xa))
    for dh in noon_label_hours:
        annotations.append(note(dh, py(p["bot"] + 24), "12", 7, xref=xa))
    annotations.append(note(px(557), py(p["bot"] + 33), "<b>Bron: ECMWF/KNMI</b>", 10,
                            color="#2a2ae8", xanchor="right"))
    yc = py((p["top"] + p["bot"]) / 2)
    for xx in (47, 543):
        annotations.append(note(px(xx), yc, "<b>%s</b>" % p["ytitle"], 17, angle=-90))

    # legend box
    nleg = len(p["legend"])
    if nleg == 3:
        offs = [18.7, 30.3, 42.0]
        box_h = 59
        lsize = 11
    else:
        offs = [12.3, 23.8, 35.2, 46.5]
        box_h = 58
        lsize = 10
    shapes.append(dict(type="rect", xref="paper", yref="paper", x0=px(78), x1=px(182),
                       y0=py(p["top"] + box_h), y1=py(p["top"]),
                       line=dict(color="#707860", width=1, dash="dot")))
    styles = [dict(color=ENSC, width=2.5, dash="dot"), dict(color=BLUE, width=4, dash="dash"),
              dict(color=RED, width=3.5)]
    for j, name in enumerate(p["legend"]):
        yy = py(p["top"] + offs[j])
        if name == "MOS TnTx":
            shapes.append(dict(type="circle", xref="paper", yref="paper",
                               x0=px(94.5), x1=px(99.5), y0=yy - 2.5 / H, y1=yy + 2.5 / H,
                               fillcolor="#6a4a2a", line=dict(color="#4a5530", width=1)))
        else:
            shapes.append(dict(type="line", xref="paper", yref="paper", x0=px(80), x1=px(112),
                               y0=yy, y1=yy, line=styles[j]))
        annotations.append(note(px(146), yy, "<b>%s</b>" % name, lsize, color=LEGTXT))

# outer frames
shapes.append(dict(type="line", xref="paper", yref="paper", x0=px(21), x1=px(573), y0=py(62), y1=py(62),
                   line=dict(color=FRAME_BLUE, width=1, dash="dot")))
for yy in (325, 590):
    shapes.append(dict(type="line", xref="paper", yref="paper", x0=px(21), x1=px(573), y0=py(yy), y1=py(yy),
                       line=dict(color=FRAME_BLUE, width=1.2, dash="dot")))
shapes.append(dict(type="line", xref="paper", yref="paper", x0=px(573), x1=px(573), y0=py(62), y1=py(855),
                   line=dict(color=FRAME_BLUE, width=1, dash="dot")))
shapes.append(dict(type="line", xref="paper", yref="paper", x0=px(21), x1=px(21), y0=py(62), y1=py(856),
                   line=dict(color=FRAME_GREY, width=2)))
shapes.append(dict(type="line", xref="paper", yref="paper", x0=px(21), x1=px(573), y0=py(855), y1=py(855),
                   line=dict(color=FRAME_GREY, width=2.5)))

fig.update_layout(template="none", width=W, height=H, autosize=False, margin=dict(l=0, r=0, t=0, b=0, pad=0),
                  paper_bgcolor="white", plot_bgcolor="white", showlegend=False,
                  font=dict(family=FONT, color=TXT), shapes=shapes, annotations=annotations, **layout)

fig.write_html("out.html")
